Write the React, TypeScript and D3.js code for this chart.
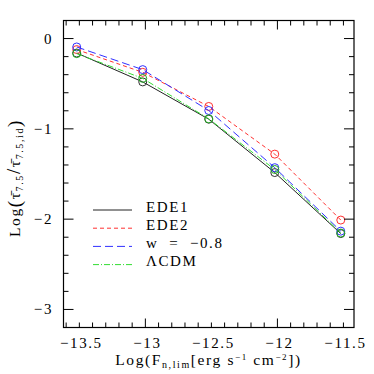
import React from "react";
import * as d3 from "d3";

const xValues = [-13.52, -13.02, -12.52, -12.02, -11.52];
const ede1 = [-0.16, -0.48, -0.893, -1.484, -2.16];
const ede2 = [-0.122, -0.374, -0.752, -1.28, -2.01];
const wm08 = [-0.093, -0.344, -0.797, -1.43, -2.133];
const lcdm = [-0.167, -0.441, -0.889, -1.45, -2.154];
const seriesNames = ["EDE1", "EDE2", "w\u00A0\u00A0=\u00A0\u00A0\u22120.8", "\u039BCDM"];
const xTickLabels = [-13.5, -13, -12.5, -12, -11.5];
const yTickLabels = [0, -1, -2, -3];

const W = 374, H = 374;
const L = 63.5, R = 354, T = 20.5, B = 327.5;
const FONT = "'Liberation Serif', 'DejaVu Serif', serif";

export default function App() {
  const x = d3.scaleLinear().domain([-13.62, -11.42]).range([L, R]);
  const y = d3.scaleLinear().domain([-3.2, 0.2]).range([B, T]);
  const line = d3.line<number>().x((_, i) => x(xValues[i])).y((d) => y(d));

  const styles = [
    { data: ede1, stroke: "#222", dash: "", mark: "#333" },
    { data: ede2, stroke: "#ff3030", dash: "4,3", mark: "#ff3030" },
    { data: wm08, stroke: "#3030ff", dash: "8,4", mark: "#3030ff" },
    { data: lcdm, stroke: "#33dd33", dash: "6,2,1,2", mark: "#22aa22" },
  ];

  const minorX = d3.range(-13.6, -11.42, 0.1).map((v) => Math.round(v * 10) / 10);
  const minorY = d3.range(-3.2, 0.21, 0.2).map((v) => Math.round(v * 10) / 10);
  const isInt = (v: number) => Math.abs(v - Math.round(v)) < 1e-6;
  const fmt = (v: number) => (v < 0 ? "\u2212" : "") + String(Math.abs(v));

  return (
    <svg width={W} height={H} style={{ position: "absolute", left: 0, top: 0, background: "#fff" }}>
      <rect x={0} y={0} width={W} height={H} fill="#fff" />
      {/* series */}
      {styles.map((s, k) => (
        <g key={k}>
          <path d={line(s.data) || ""} fill="none" stroke={s.stroke} strokeWidth={1} strokeDasharray={s.dash} />
          {s.data.map((v, i) => (
            <circle key={i} cx={x(xValues[i])} cy={y(v)} r={4} fill="none" stroke={s.mark} strokeWidth={1} />
          ))}
        </g>
      ))}
      {/* frame */}
      <rect x={L} y={T} width={R - L} height={B - T} fill="none" stroke="#000" strokeWidth={1.2} />
      {/* x ticks */}
      {minorX.map((v, i) => {
        const len = isInt(v) ? 9 : 5;
        return (
          <g key={i}>
            <line x1={x(v)} x2={x(v)} y1={B} y2={B - len} stroke="#000" strokeWidth={1} />
            <line x1={x(v)} x2={x(v)} y1={T} y2={T + len} stroke="#000" strokeWidth={1} />
          </g>
        );
      })}
      {minorY.map((v, i) => {
        const len = isInt(v) ? 10 : 5;
        return (
          <g key={i}>
            <line x1={L} x2={L + len} y1={y(v)} y2={y(v)} stroke="#000" strokeWidth={1} />
            <line x1={R} x2={R - len} y1={y(v)} y2={y(v)} stroke="#000" strokeWidth={1} />
          </g>
        );
      })}
      {xTickLabels.map((v, i) => (
        <text key={i} x={x(v) + 2} y={347.5} textAnchor="middle" fontFamily={FONT} fontSize={15} letterSpacing={1.6} fill="#000">
          {fmt(v)}
        </text>
      ))}
      {yTickLabels.map((v, i) => (
        <text key={i} x={53} y={y(v) + 5} textAnchor="end" fontFamily={FONT} fontSize={15} letterSpacing={1.6} fill="#000">
          {fmt(v)}
        </text>
      ))}
      {/* x title */}
      <text x={208.5} y={365} textAnchor="middle" fontFamily={FONT} fontSize={15.5} letterSpacing={1.6} fill="#000">
        Log(F<tspan fontSize={10} dy={3}>n,lim</tspan>
        <tspan dy={-3}>[erg{"\u00A0"}s</tspan>
        <tspan fontSize={9} dy={-5}>−1</tspan>
        <tspan dy={5}>{"\u00A0"}cm</tspan>
        <tspan fontSize={9} dy={-5}>−2</tspan>
        <tspan dy={5}>])</tspan>
      </text>
      {/* y title */}
      <text transform={`translate(20,${(T + B) / 2 + 4}) rotate(-90)`} textAnchor="middle" fontFamily={FONT} fontSize={15.5} letterSpacing={1.6} fill="#000">
        Log
        <tspan fontSize={19} dy={1}>(</tspan>
        <tspan fontSize={15.5} dy={-1}>{"\u03C4\u0304"}</tspan>
        <tspan fontSize={10} dy={3}>7.5</tspan>
        <tspan fontSize={19} dy={-3}>/</tspan>
        <tspan fontSize={15.5}>{"\u03C4\u0304"}</tspan>
        <tspan fontSize={10} dy={3}>7.5,id</tspan>
        <tspan fontSize={19} dy={-2}>)</tspan>
      </text>
      {/* legend */}
      {styles.map((s, k) => {
        const yy = 206 + k * 18.2;
        return (
          <g key={k}>
            <line x1={93} x2={132} y1={yy + 4} y2={yy + 4} stroke={s.stroke} strokeWidth={1} strokeDasharray={s.dash} />
            <text x={146} y={yy + 5.5} fontFamily={FONT} fontSize={15} letterSpacing={1.6} fill="#000">
              {seriesNames[k]}
            </text>
          </g>
        );
      })}
    </svg>
  );
}
